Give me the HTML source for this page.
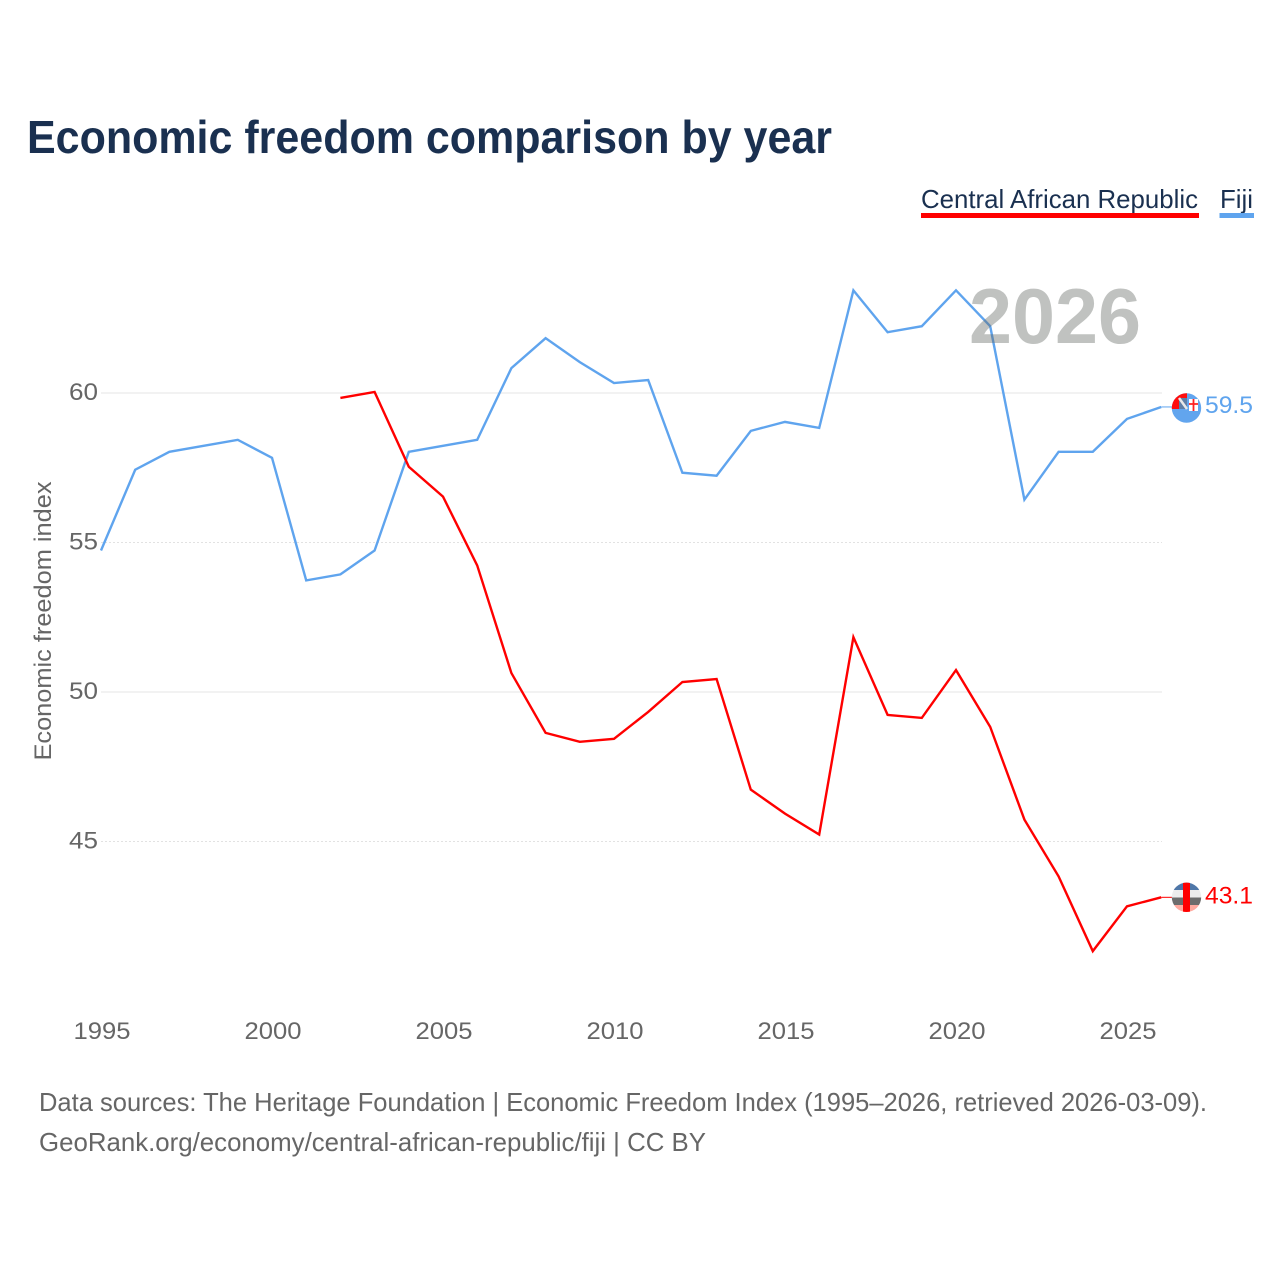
<!DOCTYPE html>
<html lang="en">
<head>
<meta charset="utf-8">
<title>Economic freedom comparison by year</title>
<style>
  html, body { margin: 0; padding: 0; background: #fff; }
  svg { display: block; }
  text { font-family: "Liberation Sans", sans-serif; }
</style>
</head>
<body>
<svg id="chart" xmlns="http://www.w3.org/2000/svg" width="1280" height="1280" viewBox="0 0 1280 1280">
  <defs>
    <clipPath id="clip-fiji"><circle cx="1186.5" cy="408" r="14.7"/></clipPath>
    <clipPath id="clip-car"><circle cx="1186.5" cy="897.3" r="14.7"/></clipPath>
  </defs>
  <rect width="1280" height="1280" fill="#fff"/>
  <text x="27" y="153" font-size="46" font-weight="700" fill="#1a3050" textLength="805" lengthAdjust="spacingAndGlyphs">Economic freedom comparison by year</text>

  <g>
    <g>
      <text x="921" y="208" font-size="26" fill="#1a3050" textLength="277" lengthAdjust="spacingAndGlyphs">Central African Republic</text>
      <rect x="921" y="213" width="278" height="5" fill="#ff0000"/>
    </g>
    <g>
      <text x="1220" y="208" font-size="26" fill="#1a3050" textLength="33" lengthAdjust="spacingAndGlyphs">Fiji</text>
      <rect x="1219.500" y="213" width="34.500" height="5" fill="#5fa4ee"/>
    </g>
  </g>

  <g id="grid"></g>
  <g id="y-axis"></g>
  <g id="x-axis"></g>
  <text transform="translate(51 621) rotate(-90)" text-anchor="middle" font-size="24" fill="#666" textLength="279" lengthAdjust="spacingAndGlyphs">Economic freedom index</text>

  <g id="series" transform="translate(-1 -1)"></g>

  <text x="969" y="343" font-size="78" font-weight="700" fill="#666a66" fill-opacity="0.41" textLength="172" lengthAdjust="spacingAndGlyphs">2026</text>

  <g>
    <g clip-path="url(#clip-fiji)">
      <rect x="1171" y="393" width="31" height="31" fill="#62a5ee"/>
      <rect x="1171" y="393" width="16" height="16" fill="#ff0d0d"/>
      <rect x="1179" y="398" width="8" height="11" fill="#5e7ea6"/>
      <path d="M1179 398 L1187 409" stroke="#e8e8e8" stroke-width="2.500"/>
      <rect x="1189" y="399" width="9" height="12" fill="#fff"/>
      <path d="M1193.500 399 V411 M1189 404 H1198" stroke="#ff2020" stroke-width="1.800"/>
    </g>
  </g>
  <g>
    <g clip-path="url(#clip-car)">
      <rect x="1171" y="882" width="31" height="8" fill="#4f77a8"/>
      <rect x="1171" y="890" width="31" height="7.500" fill="#ededed"/>
      <rect x="1171" y="897.500" width="31" height="7.500" fill="#6d6d6d"/>
      <rect x="1171" y="905" width="31" height="8" fill="#ffaaa0"/>
      <rect x="1183" y="882" width="7" height="31" fill="#ff0000"/>
    </g>
  </g>

  <g id="end-labels"></g>

  <text x="39" y="1111" font-size="26" fill="#666" textLength="1168" lengthAdjust="spacingAndGlyphs">Data sources: The Heritage Foundation | Economic Freedom Index (1995–2026, retrieved 2026-03-09).</text>
  <text x="39" y="1151" font-size="26" fill="#666" textLength="667" lengthAdjust="spacingAndGlyphs">GeoRank.org/economy/central-african-republic/fiji | CC BY</text>
</svg>

<script>
const years = [1995,1996,1997,1998,1999,2000,2001,2002,2003,2004,2005,2006,2007,2008,2009,2010,2011,2012,2013,2014,2015,2016,2017,2018,2019,2020,2021,2022,2023,2024,2025,2026];
const fijiValues = [54.7,57.4,58.0,58.2,58.4,57.8,53.7,53.9,54.7,58.0,58.2,58.4,60.8,61.8,61.0,60.3,60.4,57.3,57.2,58.7,59.0,58.8,63.4,62.0,62.2,63.4,62.2,56.4,58.0,58.0,59.1,59.5];
const carValues = [null,null,null,null,null,null,null,59.8,60.0,57.5,56.5,54.2,50.6,48.6,48.3,48.4,49.3,50.3,50.4,46.7,45.9,45.2,51.8,49.2,49.1,50.7,48.8,45.7,43.8,41.3,42.8,43.1];
const yTicks = [45,50,55,60];
const xTicks = [1995,2000,2005,2010,2015,2020,2025];

const NS = 'http://www.w3.org/2000/svg';
const xScale = function (year) { return 102 + (year - 1995) * 34.2; };
const yScale = function (value) { return 393 + (60 - value) * 29.9; };

function make(tag, parent, attrs, content) {
  const el = document.createElementNS(NS, tag);
  Object.keys(attrs).forEach(function (k) { el.setAttribute(k, attrs[k]); });
  if (content !== undefined) el.textContent = content;
  parent.appendChild(el);
  return el;
}

const gridGroup = document.getElementById('grid');
const yAxisGroup = document.getElementById('y-axis');
const xAxisGroup = document.getElementById('x-axis');
const seriesGroup = document.getElementById('series');
const labelGroup = document.getElementById('end-labels');

yTicks.forEach(function (tick) {
  const solid = tick % 10 === 0;
  const line = make('line', gridGroup, {
    x1: 101, x2: 1162, y1: yScale(tick), y2: yScale(tick),
    stroke: solid ? '#e6e6e6' : '#e2e2e2',
    'stroke-width': 1,
    'stroke-dasharray': solid ? 'none' : '2 2'
  });
  
  

  const label = make('text', yAxisGroup, {
    x: 98, y: yScale(tick) + 7, 'text-anchor': 'end', 'font-size': 24, fill: '#666',
    textLength: 29, lengthAdjust: 'spacingAndGlyphs'
  }, String(tick));
  
  
});

xTicks.forEach(function (tick) {
  const label = make('text', xAxisGroup, {
    x: xScale(tick), y: 1039, 'text-anchor': 'middle', 'font-size': 24, fill: '#666',
    textLength: 57, lengthAdjust: 'spacingAndGlyphs'
  }, String(tick));
  
  
});

function pathFrom(values) {
  let d = '';
  values.forEach(function (v, i) {
    if (v === null) return;
    d += (d ? ' L' : 'M') + xScale(years[i]).toFixed(2) + ' ' + yScale(v).toFixed(2);
  });
  return d;
}

const fijiLine = make('path', seriesGroup, {
  d: pathFrom(fijiValues), fill: 'none', stroke: '#5fa4ee', 'stroke-width': 2.4, 'stroke-linejoin': 'miter'
});



const carLine = make('path', seriesGroup, {
  d: pathFrom(carValues), fill: 'none', stroke: '#ff0000', 'stroke-width': 2.4, 'stroke-linejoin': 'miter'
});



const lastFiji = fijiValues[fijiValues.length - 1];
const lastCar = carValues[carValues.length - 1];
const lastX = xScale(years[years.length - 1]);

const fijiLink = make('line', seriesGroup, {
  x1: lastX, x2: 1173, y1: yScale(lastFiji), y2: yScale(lastFiji), stroke: '#5fa4ee', 'stroke-width': 1
});



const carLink = make('line', seriesGroup, {
  x1: lastX, x2: 1173, y1: yScale(lastCar), y2: yScale(lastCar), stroke: '#ff0000', 'stroke-width': 1
});



const fijiLabel = make('text', labelGroup, {
  x: 1205, y: yScale(lastFiji) + 5, 'font-size': 24, fill: '#5fa4ee',
  textLength: 48, lengthAdjust: 'spacingAndGlyphs'
}, lastFiji.toFixed(1));



const carLabel = make('text', labelGroup, {
  x: 1205, y: yScale(lastCar) + 5, 'font-size': 24, fill: '#ff0000',
  textLength: 48, lengthAdjust: 'spacingAndGlyphs'
}, lastCar.toFixed(1));


</script>
</body>
</html>
